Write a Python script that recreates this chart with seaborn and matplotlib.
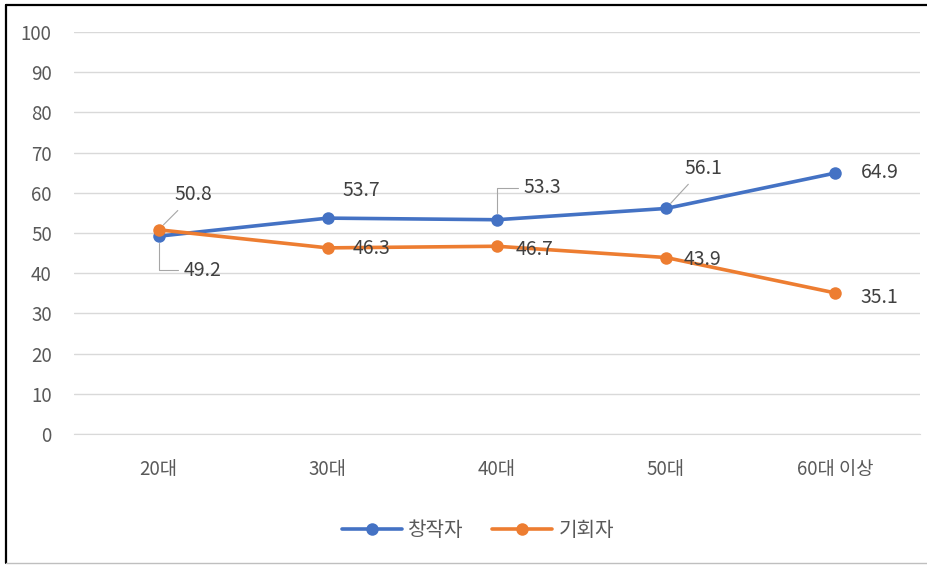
import numpy as np
import pandas as pd
import matplotlib.pyplot as plt
import seaborn as sns

# Data
ages = ["20대", "30대", "40대", "50대", "60대 이상"]
creator = [49.2, 53.7, 53.3, 56.1, 64.9]
planner = [50.8, 46.3, 46.7, 43.9, 35.1]
series_names = ["창작자", "기회자"]

df = pd.DataFrame({
    "age": ages * 2,
    "value": creator + planner,
    "series": [series_names[0]] * len(ages) + [series_names[1]] * len(ages),
})

sns.set_style("white")
plt.rcParams["font.family"] = ["Noto Sans CJK KR", "DejaVu Sans"]

fig = plt.figure(figsize=(9.28, 5.66), dpi=100)
ax = fig.add_axes([0.0797, 0.2332, 0.9113, 0.7103])

colors = {"창작자": "#4472C4", "기회자": "#ED7D31"}
sns.lineplot(data=df, x="age", y="value", hue="series", palette=colors,
             marker="o", markersize=9, markeredgewidth=0, linewidth=2.6,
             sort=False, ax=ax, legend=True)

ax.set_xlim(-0.5, 4.5)
ax.set_ylim(0, 100)
ax.set_yticks(np.arange(0, 101, 10))
ax.set_xlabel("")
ax.set_ylabel("")
ax.grid(axis="y", color="#D9D9D9", linewidth=1)
ax.set_axisbelow(True)
for s in ["top", "right", "left"]:
    ax.spines[s].set_visible(False)
ax.spines["bottom"].set_color("#D9D9D9")
ax.tick_params(axis="both", length=0, labelsize=13.5, labelcolor="#595959")
ax.tick_params(axis="y", pad=16)
ax.tick_params(axis="x", pad=18)

# data labels (offsets in pixels from the point)
lbl = dict(textcoords="offset pixels", ha="center", va="center",
           fontsize=14, color="#404040")
lead = dict(arrowstyle="-", color="#A6A6A6", lw=0.8)

ax.annotate(f"{planner[0]}", (0, planner[0]), xytext=(35, 35), **lbl,
            arrowprops=dict(**lead, shrinkA=2, shrinkB=5))
ax.annotate(f"{creator[0]}", (0, creator[0]), xytext=(44, -34), **lbl,
            arrowprops=dict(**lead, shrinkA=2, shrinkB=5,
                            connectionstyle="angle,angleA=0,angleB=90,rad=0"))
ax.annotate(f"{creator[1]}", (1, creator[1]), xytext=(34, 28), **lbl)
ax.annotate(f"{planner[1]}", (1, planner[1]), xytext=(44, -1), **lbl)
ax.annotate(f"{creator[2]}", (2, creator[2]), xytext=(46, 32), **lbl,
            arrowprops=dict(**lead, shrinkA=2, shrinkB=5,
                            connectionstyle="angle,angleA=0,angleB=90,rad=0"))
ax.annotate(f"{planner[2]}", (2, planner[2]), xytext=(38, -3), **lbl)
ax.annotate(f"{creator[3]}", (3, creator[3]), xytext=(37, 40), **lbl,
            arrowprops=dict(**lead, shrinkA=2, shrinkB=5))
ax.annotate(f"{planner[3]}", (3, planner[3]), xytext=(37, -2), **lbl)
ax.annotate(f"{creator[4]}", (4, creator[4]), xytext=(45, 1), **lbl)
ax.annotate(f"{planner[4]}", (4, planner[4]), xytext=(44, -5), **lbl)

# legend at the bottom
handles, labels = ax.get_legend_handles_labels()
ax.get_legend().remove()
fig.legend(handles, labels, loc="center", bbox_to_anchor=(0.515, 0.062),
           ncol=2, frameon=False, fontsize=14.5, labelcolor="#595959",
           handlelength=3, handletextpad=0.3, columnspacing=1.4)

# outer border
fig.add_artist(plt.Line2D([0.0065, 0.0065], [0.005, 0.991], color="black", lw=1.6))
fig.add_artist(plt.Line2D([0.0065, 1.0], [0.991, 0.991], color="black", lw=1.6))
fig.add_artist(plt.Line2D([0.0065, 1.0], [0.005, 0.005], color="#BFBFBF", lw=1))

fig.savefig("out.png", dpi=100)
